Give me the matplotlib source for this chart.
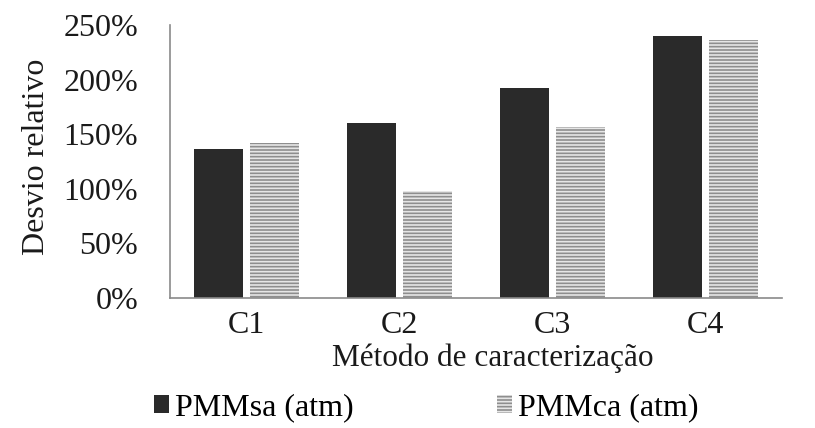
import matplotlib
matplotlib.use("Agg")
import matplotlib.pyplot as plt
import numpy as np
from matplotlib.ticker import FuncFormatter

categories = ["C1", "C2", "C3", "C4"]
pmm_sa = [136, 160, 192, 240]
pmm_ca = [142, 98, 157, 236]
series_names = ["PMMsa (atm)", "PMMca (atm)"]
yticks = [0, 50, 100, 150, 200, 250]

plt.rcParams['font.family'] = ['Liberation Serif', 'DejaVu Serif']
plt.rcParams['hatch.linewidth'] = 1.2

fig = plt.figure(figsize=(8.15, 4.28), dpi=100)
ax = fig.add_axes([0.2086, 0.3037, 0.7509, 0.6379])

x = np.arange(len(categories))
w = 0.32
gap = 0.05
ax.bar(x - (w + gap) / 2, pmm_sa, width=w, color='#2a2a2a', edgecolor='#2a2a2a',
       linewidth=0, label=series_names[0])
ax.bar(x + (w + gap) / 2, pmm_ca, width=w, color='#8e8e8e', edgecolor='#e6e6e6',
       linewidth=0, hatch='-----', label=series_names[1])

ax.set_xlim(-0.5, len(categories) - 0.5)
ax.set_ylim(0, 250)
ax.set_yticks(yticks)
ax.yaxis.set_major_formatter(FuncFormatter(lambda v, p: f"{int(v)}%"))
ax.set_xticks(x)
ax.set_xticklabels(categories)
ax.tick_params(axis='both', length=0, labelsize=23, colors='#1a1a1a')
ax.tick_params(axis='y', pad=23)
ax.tick_params(axis='x', pad=9)

for s in ['top', 'right']:
    ax.spines[s].set_visible(False)
ax.spines['left'].set_color('#8a8a8a')
ax.spines['bottom'].set_color('#8a8a8a')
ax.spines['left'].set_linewidth(1.2)
ax.spines['bottom'].set_linewidth(1.2)

ax.set_ylabel("Desvio relativo", fontsize=23, color='#1a1a1a', va='center')
ax.yaxis.set_label_coords(-0.2177, 0.516)
ax.set_xlabel("Método de caracterização", fontsize=22.5, color='#1a1a1a', va='center')
ax.xaxis.set_label_coords(0.527, -0.22)

leg = fig.legend(loc='center', bbox_to_anchor=(0.523, 0.047), ncol=2, frameon=False,
                 fontsize=23, handlelength=0.47, handleheight=0.45, handletextpad=0.18,
                 columnspacing=4.5, borderaxespad=0, borderpad=0)

fig.savefig("out.png", dpi=100)
